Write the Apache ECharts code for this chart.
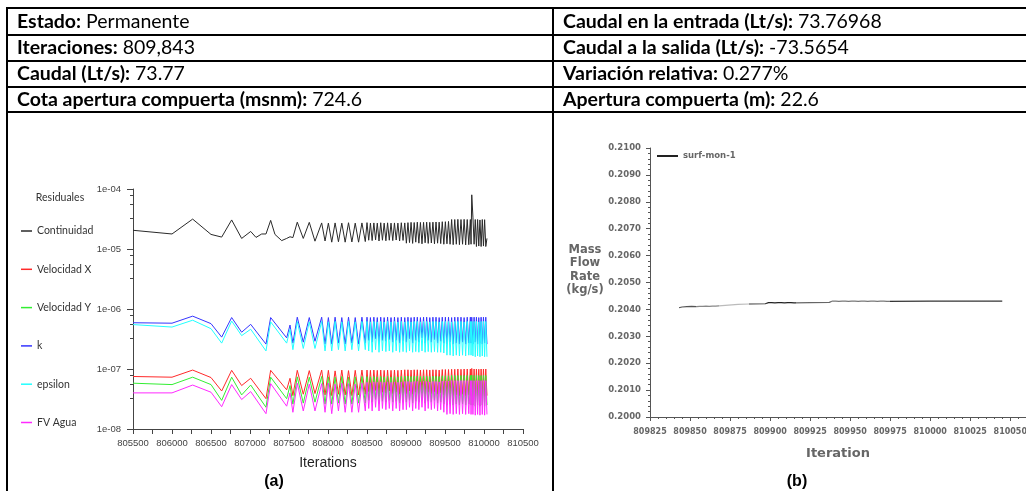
<!DOCTYPE html>
<html><head><meta charset="utf-8">
<script src="https://cdn.jsdelivr.net/npm/echarts@6/dist/echarts.min.js"></script>
<style>html,body{margin:0;padding:0;background:#fff;overflow:hidden;width:1026px;height:491px}#c{width:1070px;height:491px}</style>
</head><body><div id="c"></div>
<script>
// ---------- table text ----------
const leftCells = [['Estado:', 'Permanente'], ['Iteraciones:', '809,843'], ['Caudal (Lt/s):', '73.77'], ['Cota apertura compuerta (msnm):', '724.6']];
const rightCells = [['Caudal en la entrada (Lt/s):', '73.76968'], ['Caudal a la salida (Lt/s):', '-73.5654'], ['Variación relativa:', '0.277%'], ['Apertura compuerta (m):', '22.6']];

// ---------- chart (a): residuals ----------
const residualNames = ['Continuidad', 'Velocidad X', 'Velocidad Y', 'k', 'epsilon', 'FV Agua'];
const residualTickLabels = ['1e-08', '1e-07', '1e-06', '1e-05', '1e-04'];
const iterations = [805500,806000,806265,806500,806637,806765,806893,807009,807077,807150,807205,807265,
807320,807406,807470,807513,807550,807606,807683,807760,807833,807919,807962,808005,808048,808091,808134,808177,808220,808263,808306,808349,808392,808435,808478,
808500,808522,808544,808566,808588,808610,808632,808654,808676,808698,808720,808742,808764,808786,808808,808830,808852,808874,808896,808918,808940,808962,808984,
809005,809025,809045,809065,809085,809105,809125,809145,809165,809185,809205,809225,809245,809265,809285,809305,809325,809345,809365,809385,809405,809425,809445,809465,809485,809505,809525,809545,809565,809585,809605,809625,809645,809665,809685,809705,809725,809745,809765,809785,809805,809825,
809834,809843,
809858,809873,809888,809903,809918,809933,809948,809963,809978,809993,810008,810023,810038];
const continuidad = [2.05e-5,1.78e-5,3.15e-5,1.75e-5,1.58e-5,3.05e-5,1.5e-5,1.96e-5,1.56e-5,1.78e-5,1.78e-5,3.0e-5,
1.75e-5,1.38e-5,1.5e-5,1.6e-5,1.55e-5,2.8e-5,1.5e-5,2.78e-5,1.35e-5,2.72e-5,1.36e-5,2.7e-5,1.3e-5,2.72e-5,1.32e-5,2.7e-5,1.3e-5,2.74e-5,1.31e-5,2.7e-5,1.3e-5,2.72e-5,1.33e-5,
2.75e-5,1.4e-5,2.7e-5,1.38e-5,2.72e-5,1.42e-5,2.7e-5,1.36e-5,2.74e-5,1.4e-5,2.7e-5,1.37e-5,2.73e-5,1.4e-5,2.7e-5,1.38e-5,2.72e-5,1.41e-5,2.7e-5,1.36e-5,2.74e-5,1.39e-5,2.72e-5,
1.25e-5,2.75e-5,1.28e-5,2.78e-5,1.24e-5,2.76e-5,1.3e-5,2.8e-5,1.25e-5,2.77e-5,1.22e-5,2.78e-5,1.27e-5,2.8e-5,1.24e-5,2.78e-5,1.26e-5,2.8e-5,1.22e-5,2.82e-5,1.25e-5,2.8e-5,1.23e-5,2.85e-5,1.2e-5,2.85e-5,1.22e-5,2.88e-5,1.2e-5,3.1e-5,1.18e-5,3.1e-5,1.2e-5,3.12e-5,1.18e-5,3.1e-5,1.2e-5,3.12e-5,1.17e-5,3.1e-5,1.18e-5,3.1e-5,
1.2e-5,8.0e-5,
3.4e-5,1.2e-5,3.1e-5,1.1e-5,3.1e-5,1.12e-5,3.05e-5,1.1e-5,3.1e-5,1.12e-5,3.08e-5,1.1e-5,1.5e-5];
const velocidadX = [7.5e-8,7.3e-8,9.6e-8,7.2e-8,4.3e-8,9.5e-8,5.3e-8,7.0e-8,null,null,3.2e-8,9.5e-8,
null,null,4.5e-8,7.0e-8,3.6e-8,9.5e-8,3.8e-8,9.4e-8,3.9e-8,9.6e-8,3.7e-8,9.5e-8,3.6e-8,9.3e-8,3.8e-8,9.6e-8,3.7e-8,9.4e-8,3.6e-8,9.5e-8,3.7e-8,9.6e-8,3.8e-8,
9.6e-8,4.2e-8,9.5e-8,3.9e-8,9.6e-8,4.4e-8,9.5e-8,3.8e-8,9.6e-8,4.1e-8,9.5e-8,4.0e-8,9.6e-8,4.3e-8,9.5e-8,3.9e-8,9.6e-8,4.1e-8,9.5e-8,3.8e-8,9.6e-8,4.0e-8,9.7e-8,
3.9e-8,9.7e-8,4.3e-8,9.6e-8,3.8e-8,9.7e-8,4.1e-8,9.7e-8,3.9e-8,9.6e-8,4.4e-8,9.7e-8,3.8e-8,9.7e-8,4.1e-8,9.6e-8,3.9e-8,9.7e-8,4.2e-8,9.7e-8,3.8e-8,9.6e-8,4.0e-8,9.8e-8,3.7e-8,9.8e-8,3.6e-8,9.8e-8,3.8e-8,9.9e-8,3.6e-8,9.9e-8,3.7e-8,1.0e-7,3.6e-8,9.9e-8,3.8e-8,1.0e-7,3.6e-8,1.0e-7,3.7e-8,1.0e-7,
3.6e-8,1.02e-7,
3.6e-8,1.0e-7,3.5e-8,1.0e-7,3.6e-8,9.9e-8,3.5e-8,1.0e-7,3.6e-8,1.0e-7,3.5e-8,1.0e-7,3.6e-8];
const velocidadY = [5.8e-8,5.5e-8,7.3e-8,5.5e-8,3.0e-8,7.3e-8,3.7e-8,5.4e-8,null,null,2.3e-8,7.3e-8,
null,null,3.2e-8,5.3e-8,2.6e-8,7.4e-8,2.7e-8,7.3e-8,2.8e-8,7.5e-8,2.6e-8,7.4e-8,2.6e-8,7.3e-8,2.7e-8,7.5e-8,2.6e-8,7.3e-8,2.6e-8,7.4e-8,2.7e-8,7.5e-8,2.7e-8,
7.5e-8,3.0e-8,7.4e-8,2.8e-8,7.5e-8,3.1e-8,7.4e-8,2.7e-8,7.5e-8,2.9e-8,7.4e-8,2.8e-8,7.5e-8,3.0e-8,7.4e-8,2.8e-8,7.5e-8,2.9e-8,7.4e-8,2.7e-8,7.5e-8,2.8e-8,7.6e-8,
2.8e-8,7.6e-8,3.0e-8,7.5e-8,2.7e-8,7.6e-8,2.9e-8,7.6e-8,2.8e-8,7.5e-8,3.1e-8,7.6e-8,2.7e-8,7.6e-8,2.9e-8,7.5e-8,2.8e-8,7.6e-8,3.0e-8,7.6e-8,2.7e-8,7.5e-8,2.8e-8,7.7e-8,2.6e-8,7.7e-8,2.5e-8,7.7e-8,2.6e-8,7.8e-8,2.5e-8,7.8e-8,2.6e-8,7.8e-8,2.5e-8,7.8e-8,2.6e-8,7.8e-8,2.5e-8,7.8e-8,2.6e-8,7.8e-8,
2.5e-8,7.9e-8,
2.5e-8,7.8e-8,2.4e-8,7.8e-8,2.5e-8,7.8e-8,2.4e-8,7.8e-8,2.5e-8,7.8e-8,2.4e-8,7.8e-8,2.5e-8];
const kResidual = [5.9e-7,5.8e-7,7.6e-7,5.7e-7,3.4e-7,7.2e-7,4.1e-7,5.55e-7,null,null,2.6e-7,7.2e-7,
null,null,3.3e-7,5.4e-7,2.7e-7,7.3e-7,2.8e-7,7.2e-7,2.9e-7,7.3e-7,2.6e-7,7.2e-7,2.6e-7,7.3e-7,2.7e-7,7.2e-7,2.6e-7,7.3e-7,2.7e-7,7.2e-7,2.6e-7,7.3e-7,2.7e-7,
7.3e-7,3.0e-7,7.2e-7,2.8e-7,7.3e-7,3.2e-7,7.2e-7,2.7e-7,7.3e-7,3.0e-7,7.2e-7,2.9e-7,7.3e-7,3.1e-7,7.2e-7,2.8e-7,7.3e-7,3.0e-7,7.2e-7,2.7e-7,7.3e-7,2.9e-7,7.2e-7,
2.8e-7,7.3e-7,3.2e-7,7.2e-7,2.7e-7,7.3e-7,3.0e-7,7.3e-7,2.8e-7,7.2e-7,3.3e-7,7.3e-7,2.7e-7,7.3e-7,3.0e-7,7.2e-7,2.8e-7,7.3e-7,3.1e-7,7.3e-7,2.7e-7,7.2e-7,2.9e-7,7.3e-7,2.7e-7,7.3e-7,2.6e-7,7.3e-7,2.8e-7,7.2e-7,2.6e-7,7.3e-7,2.7e-7,7.3e-7,2.6e-7,7.3e-7,2.8e-7,7.2e-7,2.6e-7,7.3e-7,2.7e-7,7.3e-7,
2.7e-7,7.3e-7,
2.6e-7,7.3e-7,2.8e-7,7.3e-7,2.6e-7,7.2e-7,2.7e-7,7.3e-7,2.6e-7,7.3e-7,2.7e-7,7.3e-7,2.6e-7];
const epsilonResidual = [5.5e-7,5.0e-7,6.5e-7,4.7e-7,2.7e-7,6.3e-7,3.6e-7,4.6e-7,null,null,2.0e-7,6.1e-7,
null,null,2.7e-7,4.6e-7,2.1e-7,6.2e-7,2.2e-7,6.1e-7,2.2e-7,6.2e-7,2.0e-7,6.1e-7,2.0e-7,6.2e-7,2.1e-7,6.1e-7,2.0e-7,6.2e-7,2.1e-7,6.1e-7,2.0e-7,6.2e-7,2.1e-7,
6.2e-7,2.0e-7,6.1e-7,1.9e-7,6.2e-7,2.1e-7,6.1e-7,1.9e-7,6.2e-7,2.0e-7,6.1e-7,1.95e-7,6.2e-7,2.0e-7,6.1e-7,1.9e-7,6.2e-7,2.0e-7,6.1e-7,1.9e-7,6.2e-7,1.95e-7,6.1e-7,
1.9e-7,6.2e-7,2.0e-7,6.1e-7,1.9e-7,6.2e-7,1.95e-7,6.2e-7,1.9e-7,6.1e-7,2.0e-7,6.2e-7,1.9e-7,6.2e-7,1.95e-7,6.1e-7,1.9e-7,6.2e-7,1.95e-7,6.2e-7,1.9e-7,6.1e-7,1.9e-7,6.2e-7,1.85e-7,6.2e-7,1.7e-7,6.2e-7,1.7e-7,6.1e-7,1.65e-7,6.2e-7,1.7e-7,6.2e-7,1.65e-7,6.2e-7,1.7e-7,6.1e-7,1.65e-7,6.2e-7,1.7e-7,6.2e-7,
1.7e-7,6.2e-7,
1.65e-7,6.2e-7,1.6e-7,6.2e-7,1.65e-7,6.1e-7,1.6e-7,6.2e-7,1.65e-7,6.2e-7,1.6e-7,6.2e-7,1.6e-7];
const fvAgua = [4.0e-8,4.0e-8,5.4e-8,4.1e-8,2.35e-8,5.5e-8,3.1e-8,4.2e-8,null,null,1.8e-8,5.7e-8,
null,null,2.4e-8,4.0e-8,1.9e-8,5.8e-8,2.0e-8,5.6e-8,2.0e-8,5.7e-8,1.9e-8,5.8e-8,1.8e-8,5.6e-8,2.0e-8,5.8e-8,1.9e-8,5.7e-8,1.9e-8,5.6e-8,1.9e-8,5.8e-8,2.0e-8,
6.0e-8,2.2e-8,5.9e-8,2.0e-8,6.1e-8,2.3e-8,6.0e-8,2.0e-8,6.1e-8,2.2e-8,6.0e-8,2.1e-8,6.1e-8,2.2e-8,6.0e-8,2.0e-8,6.1e-8,2.2e-8,6.0e-8,2.0e-8,6.1e-8,2.1e-8,6.2e-8,
2.1e-8,6.2e-8,2.3e-8,6.1e-8,2.0e-8,6.2e-8,2.2e-8,6.2e-8,2.1e-8,6.1e-8,2.3e-8,6.2e-8,2.0e-8,6.2e-8,2.2e-8,6.1e-8,2.1e-8,6.2e-8,2.2e-8,6.2e-8,2.0e-8,6.1e-8,2.1e-8,6.3e-8,1.9e-8,6.3e-8,1.75e-8,6.3e-8,1.8e-8,6.4e-8,1.75e-8,6.4e-8,1.8e-8,6.4e-8,1.75e-8,6.4e-8,1.8e-8,6.4e-8,1.75e-8,6.4e-8,1.8e-8,6.4e-8,
1.75e-8,6.4e-8,
1.75e-8,6.4e-8,1.7e-8,6.4e-8,1.75e-8,6.4e-8,1.7e-8,6.4e-8,1.75e-8,6.4e-8,1.7e-8,6.4e-8,1.75e-8];
const residualColors = ['#2a2a2a', '#ff2a2a', '#33ee33', '#3535ff', '#22ffff', '#ff2aff'];

// ---------- chart (b): mass flow monitor ----------
const monitorName = 'surf-mon-1';
const monitorIter = [809843,809845,809848,809851,
809854,809855,809856,809857,809858,809859,809860,809861,809862,809863,809864,809865,809866,809867,
809880,809887,809897,
809898,809899,809900,809901,809902,809903,809904,809905,809906,809907,809908,809909,809910,809911,809912,809913,809914,809915,
809925,809937,
809938,809939,809940,809941,809942,809943,809944,809945,809946,809947,809948,809949,809950,809951,809952,809953,809954,809955,809956,809957,809958,809959,809960,809961,809962,809963,809964,809965,809966,809967,809968,809969,809970,809971,809972,809973,809974,
810000,810045];
const monitorFlow = [0.20406,0.20409,0.2041,0.20411,
0.2041,0.20416,0.20411,0.20417,0.20411,0.20416,0.20412,0.20417,0.20411,0.20416,0.20412,0.20417,0.20412,0.20416,
0.20419,0.2042,0.20421,
0.20419,0.20425,0.2042,0.20425,0.20419,0.20424,0.2042,0.20425,0.20419,0.20425,0.2042,0.20424,0.20419,0.20425,0.2042,0.20425,0.20419,0.20424,
0.20425,0.20426,
0.20424,0.20431,0.20425,0.20431,0.20424,0.2043,0.20425,0.20431,0.20424,0.20431,0.20425,0.2043,0.20424,0.20431,0.20425,0.20431,0.20424,0.2043,0.20425,0.20431,0.20424,0.20431,0.20425,0.2043,0.20424,0.20431,0.20425,0.20431,0.20424,0.2043,0.20425,0.20431,0.20424,0.20431,0.20425,0.2043,0.20426,
0.20431,0.20431];
// grey shade of the monitor trace over iteration ranges (style only)
const monitorShades = [
  {gte:809843, lt:809854, color:'#555'}, {gte:809854, lt:809868, color:'#888'},
  {gte:809868, lt:809887, color:'#bbb'}, {gte:809887, lt:809898, color:'#333'},
  {gte:809898, lt:809916, color:'#222'}, {gte:809916, lt:809938, color:'#666'},
  {gte:809938, lt:809975, color:'#777'}, {gte:809975, lte:810075, color:'#333'}
];

// ---------- build ----------
const zip = (xs, ys) => xs.map((x, i) => [x, ys[i]]);
const residualSeriesData = [continuidad, velocidadX, velocidadY, kResidual, epsilonResidual, fvAgua];
const tableFont = 'Lato';
const rowY = [22, 48, 74, 100];
const lineYs = [8, 35, 61, 87, 112];
const graphic = [];
lineYs.forEach(y => graphic.push({type:'line', silent:true, shape:{x1:6, y1:y, x2:1070, y2:y}, style:{stroke:'#000', lineWidth:2}}));
[7, 553].forEach(x => graphic.push({type:'line', silent:true, shape:{x1:x, y1:7, x2:x, y2:491}, style:{stroke:'#000', lineWidth:2}}));
function cellText(cell, x, y) {
  return {type:'text', silent:true, x:x, y:y, style:{
    text:'{b|' + cell[0] + '}{n| ' + cell[1] + '}', align:'left', verticalAlign:'middle',
    rich:{ b:{fontFamily:tableFont, fontSize:19.5, fontWeight:'bold', fill:'#000'}, n:{fontFamily:tableFont, fontSize:19.5, fontWeight:'normal', fill:'#000'} }
  }};
}
leftCells.forEach((c, i) => graphic.push(cellText(c, 17, rowY[i])));
rightCells.forEach((c, i) => graphic.push(cellText(c, 563, rowY[i])));
graphic.push({type:'text', silent:true, x:60, y:198, style:{text:'Residuales', align:'center', verticalAlign:'middle', fontFamily:tableFont, fontSize:10.5, fill:'#333'}});
graphic.push({type:'text', silent:true, x:274, y:482, style:{text:'(a)', align:'center', verticalAlign:'middle', fontFamily:'Liberation Sans', fontSize:16, fontWeight:'bold', fill:'#000'}});
graphic.push({type:'text', silent:true, x:797, y:482, style:{text:'(b)', align:'center', verticalAlign:'middle', fontFamily:'Liberation Sans', fontSize:16, fontWeight:'bold', fill:'#000'}});
graphic.push({type:'text', silent:true, x:585, y:270, style:{text:'Mass\nFlow\nRate\n(kg/s)', align:'center', verticalAlign:'middle', lineHeight:13.5, fontFamily:'DejaVu Sans', fontSize:11.5, fontWeight:'bold', fill:'#666'}});
graphic.push({type:'text', silent:true, x:838, y:454, style:{text:'Iteration', align:'center', verticalAlign:'middle', fontFamily:'DejaVu Sans', fontSize:13, fontWeight:'bold', fill:'#666'}});

const series = residualNames.map((name, i) => ({
  name: name, type:'line', xAxisIndex:0, yAxisIndex:0, symbol:'none', connectNulls:true,
  lineStyle:{width:1, color:residualColors[i]}, itemStyle:{color:residualColors[i]},
  data: zip(iterations, residualSeriesData[i]), animation:false
}));
series.push({
  name: monitorName, type:'line', xAxisIndex:1, yAxisIndex:1, symbol:'none',
  lineStyle:{width:1.2}, itemStyle:{color:'#222'},
  data: zip(monitorIter, monitorFlow), animation:false
});

const chart = echarts.init(document.getElementById('c'), null, {renderer:'canvas'});
chart.setOption({
  animation:false,
  backgroundColor:'#fff',
  grid:[
    {left:133, top:189, width:390, height:240},
    {left:650, top:148, width:413, height:269}
  ],
  xAxis:[
    {type:'value', gridIndex:0, min:805500, max:810500, interval:500,
     name:'Iterations', nameLocation:'middle', nameGap:27,
     nameTextStyle:{fontFamily:'Liberation Sans', fontSize:14, color:'#222'},
     axisLine:{lineStyle:{color:'#444', width:1}}, axisTick:{length:5, lineStyle:{color:'#444'}},
     minorTick:{show:true, splitNumber:2, length:5, lineStyle:{color:'#444'}},
     splitLine:{show:false}, minorSplitLine:{show:false},
     axisLabel:{margin:9, fontFamily:'Liberation Sans', fontSize:9.5, color:'#444', formatter:v => String(v)}},
    {type:'value', gridIndex:1, min:809825, max:810075, interval:25,
     axisLine:{lineStyle:{color:'#555', width:1}}, axisTick:{length:4, lineStyle:{color:'#555'}},
     minorTick:{show:true, splitNumber:5, length:2, lineStyle:{color:'#555'}},
     splitLine:{show:false},
     axisLabel:{margin:11, fontFamily:'DejaVu Sans', fontSize:8, fontWeight:'bold', color:'#666', formatter:v => String(v)}}
  ],
  yAxis:[
    {type:'log', gridIndex:0, logBase:10, min:1e-8, max:1e-4, splitNumber:4,
     axisLine:{show:true, lineStyle:{color:'#444', width:1}}, axisTick:{show:true, length:6, lineStyle:{color:'#444'}},
     minorTick:{show:true, splitNumber:4, length:3, lineStyle:{color:'#444'}},
     splitLine:{show:false}, minorSplitLine:{show:false},
     axisLabel:{margin:12, fontFamily:'Liberation Sans', fontSize:9.5, color:'#444',
       formatter:v => residualTickLabels[Math.round(Math.log10(v)) + 8]}},
    {type:'value', gridIndex:1, min:0.2, max:0.21, interval:0.001,
     axisLine:{show:true, lineStyle:{color:'#555', width:1}}, axisTick:{show:true, length:4, lineStyle:{color:'#555'}},
     minorTick:{show:true, splitNumber:5, length:2, lineStyle:{color:'#555'}},
     splitLine:{show:false},
     axisLabel:{margin:9, fontFamily:'DejaVu Sans', fontSize:8.5, fontWeight:'bold', color:'#666', formatter:v => v.toFixed(4)}}
  ],
  visualMap:{type:'piecewise', show:false, seriesIndex:6, dimension:0, pieces:monitorShades},
  legend:[
    {data:residualNames, orient:'vertical', left:21, top:224, padding:0, itemWidth:11, itemHeight:1.5, itemGap:24.3, icon:'rect',
     selectedMode:false, textStyle:{fontFamily:tableFont, fontSize:10.5, color:'#333', lineHeight:14}},
    {data:[{name:monitorName, itemStyle:{color:'#222'}}], left:657, top:150, padding:0, itemWidth:21, itemHeight:2, icon:'rect', selectedMode:false,
     textStyle:{fontFamily:'DejaVu Sans', fontSize:8.5, fontWeight:'bold', color:'#666', lineHeight:12}}
  ],
  graphic: graphic,
  series: series
});
</script></body></html>
